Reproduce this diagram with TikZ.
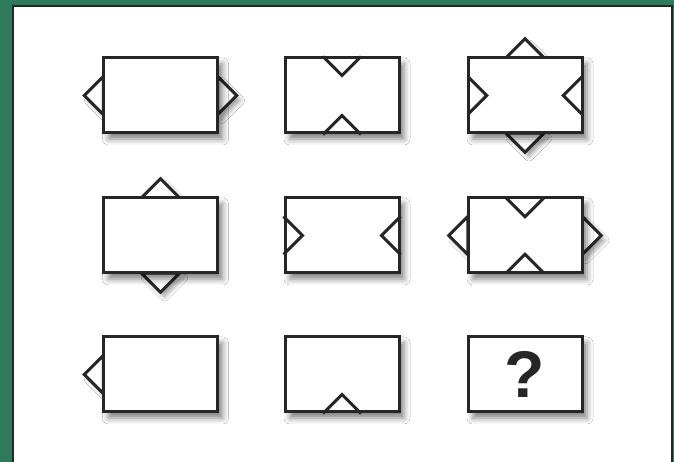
\documentclass[tikz,border=0pt]{standalone}
\usepackage{fontspec}
\setmainfont{Liberation Sans}
\usetikzlibrary{shadows.blur}

\definecolor{framegreen}{HTML}{2E7A5A}
\definecolor{edgegray}{HTML}{262626}

\tikzset{
  slot/.style={minimum width=114pt, minimum height=75pt, inner sep=0pt},
  card/.style={slot, draw=edgegray, line width=3pt, fill=white,
    blur shadow={shadow xshift=5pt, shadow yshift=-6pt, shadow blur radius=6pt, shadow opacity=50}},
  tip/.style={draw=edgegray, line width=3pt, line join=miter, fill=white,
    blur shadow={shadow xshift=4pt, shadow yshift=-5pt, shadow blur radius=4pt, shadow opacity=35}},
  notch/.style={draw=edgegray, line width=3pt, line join=miter}
}

% outer tips, drawn before the card
\newcommand{\tipW}[1]{\path[tip] ([yshift=19pt]#1.west) -- ([xshift=-19pt]#1.west) -- ([yshift=-19pt]#1.west) -- cycle;}
\newcommand{\tipE}[1]{\path[tip] ([yshift=19pt]#1.east) -- ([xshift=19pt]#1.east) -- ([yshift=-19pt]#1.east) -- cycle;}
\newcommand{\tipN}[1]{\path[tip] ([xshift=-19pt]#1.north) -- ([yshift=19pt]#1.north) -- ([xshift=19pt]#1.north) -- cycle;}
\newcommand{\tipS}[1]{\path[tip] ([xshift=-19pt]#1.south) -- ([yshift=-19pt]#1.south) -- ([xshift=19pt]#1.south) -- cycle;}
% inner notches, drawn after the card
\newcommand{\notchW}[1]{\draw[notch] ([yshift=19pt]#1.west) -- ([xshift=19pt]#1.west) -- ([yshift=-19pt]#1.west);}
\newcommand{\notchE}[1]{\draw[notch] ([yshift=19pt]#1.east) -- ([xshift=-19pt]#1.east) -- ([yshift=-19pt]#1.east);}
\newcommand{\notchN}[1]{\draw[notch] ([xshift=-19pt]#1.north) -- ([yshift=-19pt]#1.north) -- ([xshift=19pt]#1.north);}
\newcommand{\notchS}[1]{\draw[notch] ([xshift=-19pt]#1.south) -- ([yshift=19pt]#1.south) -- ([xshift=19pt]#1.south);}

\begin{document}
\begin{tikzpicture}[x=1pt, y=1pt]
\fill[framegreen] (0,0) rectangle (674,462);
\useasboundingbox (0,0) rectangle (674,462);
\draw[edgegray, line width=2.2pt, fill=white] (13,-10) rectangle (672,456);

% row 1
\node[slot] (a1) at (160.5,366.5) {};
\tipW{a1} \tipE{a1}
\node[card] at (a1) {};
\node[card] (a2) at (342,366.5) {};
\notchN{a2} \notchS{a2}
\node[slot] (a3) at (525,366.5) {};
\tipN{a3} \tipS{a3}
\node[card] at (a3) {};
\notchW{a3} \notchE{a3}

% row 2
\node[slot] (b1) at (160.5,226.5) {};
\tipN{b1} \tipS{b1}
\node[card] at (b1) {};
\node[card] (b2) at (342,226.5) {};
\notchW{b2} \notchE{b2}
\node[slot] (b3) at (525,226.5) {};
\tipW{b3} \tipE{b3}
\node[card] at (b3) {};
\notchN{b3} \notchS{b3}

% row 3
\node[slot] (c1) at (160.5,87.5) {};
\tipW{c1}
\node[card] at (c1) {};
\node[card] (c2) at (342,87.5) {};
\notchS{c2}
\node[card, font=\fontsize{66}{66}\selectfont\bfseries, text=black!85] (c3) at (525,87.5) {?};
\end{tikzpicture}
\end{document}
